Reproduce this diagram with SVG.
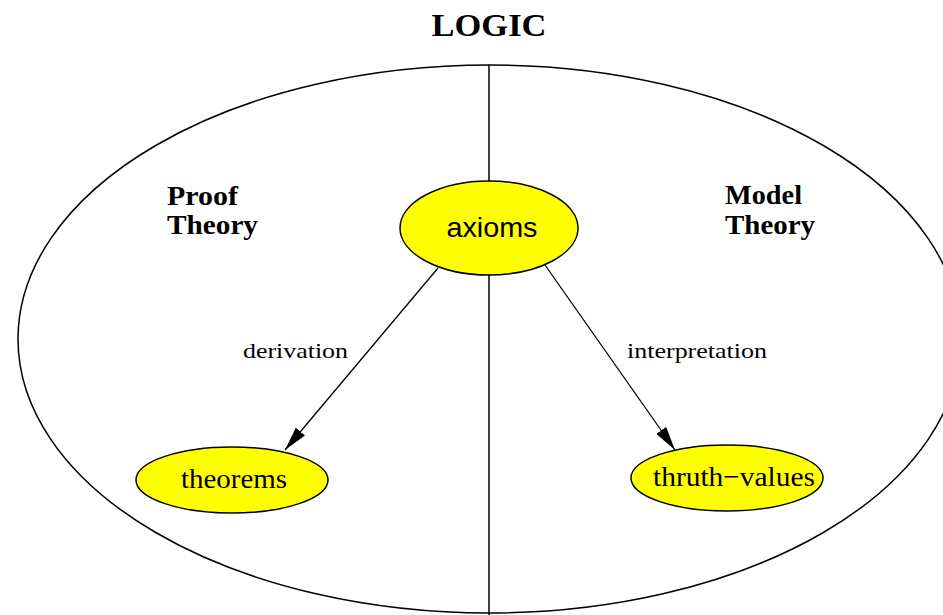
<svg xmlns="http://www.w3.org/2000/svg" width="943" height="615" viewBox="0 0 943 615">
  <style>
    .outline { fill: none; stroke: #000; stroke-width: 1.5; }
    .node { fill: #ffff00; stroke: #000; stroke-width: 1.5; }
    .edge { fill: none; stroke: #000; stroke-width: 1.3; }
    .title { font-family: "Liberation Serif", "Times New Roman", serif; font-weight: bold; fill: #000; }
    .rm { font-family: "Liberation Serif", "Times New Roman", serif; fill: #000; }
    .sans { font-family: "Liberation Sans", Arial, sans-serif; fill: #000; }
  </style>
  <defs>
    <marker id="arrow" viewBox="0 0 24 12" refX="24" refY="6" markerWidth="24" markerHeight="12" markerUnits="userSpaceOnUse" orient="auto">
      <path d="M0,0 L24,6 L0,12 z" fill="#000"/>
    </marker>
  </defs>

  <rect width="943" height="615" fill="#fff"/>

  <!-- outer domain and its dividing line -->
  <g id="logic">
    <ellipse class="outline" cx="489.5" cy="339" rx="471.5" ry="274"/>
    <line class="outline" x1="489" y1="65" x2="489" y2="181"/>
    <line class="outline" x1="489" y1="275" x2="489" y2="615"/>
    <text class="title" x="489" y="36" font-size="31" text-anchor="middle" textLength="115" lengthAdjust="spacingAndGlyphs">LOGIC</text>
  </g>

  <g id="proof-theory">
    <text class="title" x="167" y="205" font-size="28" textLength="71" lengthAdjust="spacingAndGlyphs">Proof</text>
    <text class="title" x="167" y="234" font-size="28" textLength="91" lengthAdjust="spacingAndGlyphs">Theory</text>
  </g>

  <g id="model-theory">
    <text class="title" x="725" y="204" font-size="28" textLength="77" lengthAdjust="spacingAndGlyphs">Model</text>
    <text class="title" x="725" y="234" font-size="28" textLength="90" lengthAdjust="spacingAndGlyphs">Theory</text>
  </g>

  <!-- connectors -->
  <g id="edges">
    <line class="edge" x1="438" y1="268" x2="285" y2="450" marker-end="url(#arrow)"/>
    <text class="rm" x="243" y="358" font-size="21" textLength="105" lengthAdjust="spacingAndGlyphs">derivation</text>
    <line class="edge" x1="545" y1="265" x2="675" y2="450" marker-end="url(#arrow)"/>
    <text class="rm" x="627" y="358" font-size="21" textLength="140" lengthAdjust="spacingAndGlyphs">interpretation</text>
  </g>

  <g id="axioms">
    <ellipse class="node" cx="489" cy="228" rx="89" ry="47"/>
    <text class="sans" x="492" y="237" font-size="28" text-anchor="middle" textLength="91" lengthAdjust="spacingAndGlyphs">axioms</text>
  </g>

  <g id="theorems">
    <ellipse class="node" cx="232" cy="480" rx="96" ry="33"/>
    <text class="rm" x="234" y="488" font-size="28" text-anchor="middle" textLength="106" lengthAdjust="spacingAndGlyphs">theorems</text>
  </g>

  <g id="thruth-values">
    <ellipse class="node" cx="727" cy="478" rx="96" ry="33"/>
    <text class="rm" x="734" y="486" font-size="28" text-anchor="middle" textLength="162" lengthAdjust="spacingAndGlyphs">thruth−values</text>
  </g>
</svg>
